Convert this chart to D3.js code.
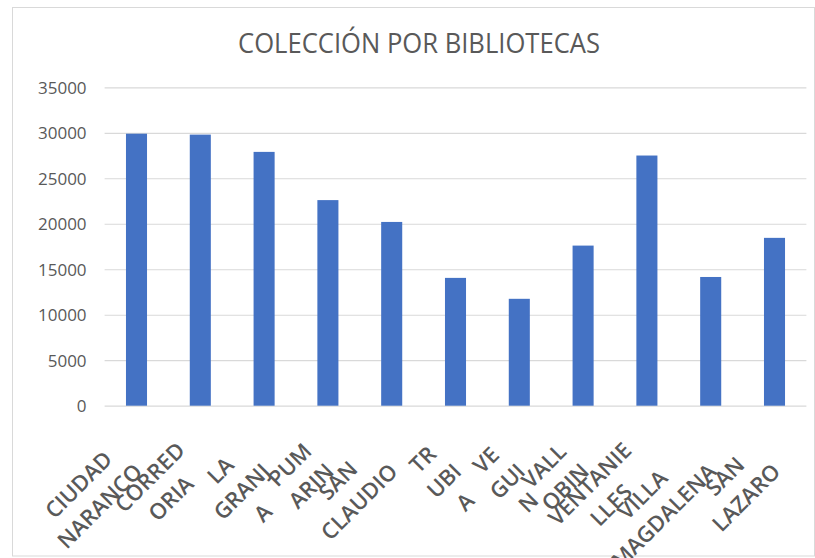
<!DOCTYPE html>
<html>
<head>
<meta charset="utf-8">
<script src="https://cdn.jsdelivr.net/npm/d3@7"></script>
<style>
  body { margin: 0; background: #fff; }
  svg { display: block; font-family: 'Open Sans', 'Noto Sans', sans-serif; }
</style>
</head>
<body>
<svg width="815" height="558"></svg>
<script>
// Data (labels keep the same line breaks as the original)
const categories = ['CIUDAD\nNARANCO', 'CORRED\nORIA', 'LA\nGRANJ\nA', 'PUM\nARIN', 'SAN\nCLAUDIO',
  'TR\nUBI\nA', 'VE\nGUI\nN', 'VALL\nOBIN', 'VENTANIE\nLLES', 'VILLA\nMAGDALENA', 'SAN\nLAZARO'];
const values = [29900, 29800, 27900, 22600, 20200, 14050, 11750, 17600, 27500, 14150, 18450];
const yTicks = [0, 5000, 10000, 15000, 20000, 25000, 30000, 35000];
const title = 'COLECCIÓN POR BIBLIOTECAS';

const svg = d3.select('svg');
const grey = '#595959';

// chart frame
svg.append('rect')
  .attr('x', 12.5).attr('y', 7.5)
  .attr('width', 802).attr('height', 548.5)
  .attr('fill', '#fff').attr('stroke', '#d9d9d9');

// scales
const x = d3.scaleBand().domain(d3.range(categories.length))
  .range([104.6, 806.4]).paddingInner(0.67).paddingOuter(0.335);
const y = d3.scaleLinear().domain([0, 35000]).range([405.7, 87.3]);

// gridlines + tick labels
const yAxis = d3.axisLeft(y).tickValues(yTicks).tickFormat(d3.format('d'))
  .tickSize(-(806.4 - 104.6)).tickPadding(18);
const gy = svg.append('g').attr('transform', 'translate(104.6,0)').call(yAxis);
gy.select('.domain').remove();
gy.selectAll('.tick line').attr('stroke', '#d9d9d9').attr('stroke-width', 1.2);
gy.selectAll('.tick text')
  .attr('fill', grey).attr('font-size', 17).attr('font-family', "'Open Sans', sans-serif")
  .attr('dy', '0.35em');

// bars
svg.append('g').selectAll('rect')
  .data(values).enter()
  .append('rect')
  .attr('x', (d, i) => x(i))
  .attr('width', x.bandwidth())
  .attr('y', d => y(d))
  .attr('height', d => y(0) - y(d))
  .attr('fill', '#4472c4');

// title
svg.append('text')
  .attr('x', 419).attr('y', 53)
  .attr('text-anchor', 'middle')
  .attr('font-size', 28)
  .attr('fill', grey)
  .attr('textLength', 362).attr('lengthAdjust', 'spacingAndGlyphs')
  .text(title);

// x labels: rotated -45, lines centred on each other, top-right corner anchored under the tick
const lh = 30;
const labels = svg.append('g').selectAll('g')
  .data(categories).enter()
  .append('g')
  .attr('transform', (d, i) => 'translate(' + (x(i) + x.bandwidth() / 2 - 14) + ',' + (y(0) + 46) + ') rotate(-45)');

labels.each(function(d) {
  const g = d3.select(this);
  const lines = d.split('\n');
  const texts = lines.map((t, j) => g.append('text')
    .attr('y', j * lh)
    .attr('font-size', 22)
    .attr('font-weight', 600)
    .attr('fill', grey)
    .attr('text-anchor', 'middle')
    .text(t));
  const maxW = d3.max(texts, t => t.node().getComputedTextLength());
  texts.forEach(t => t.attr('x', -maxW / 2));
});
</script>
</body>
</html>
